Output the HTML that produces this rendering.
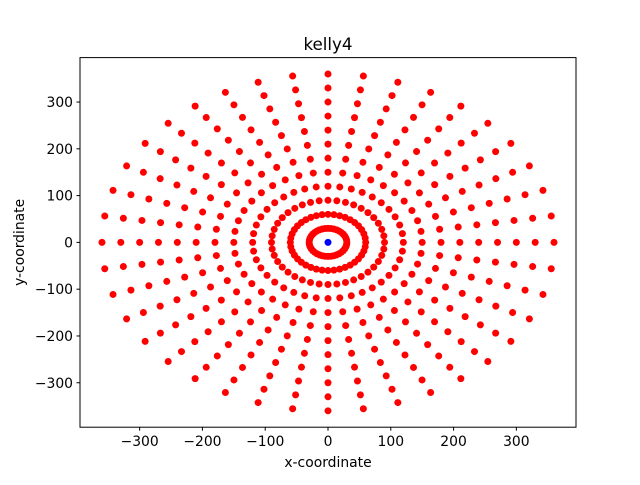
<!DOCTYPE html>
<html><head><meta charset="utf-8"><style>
body{margin:0;background:#fff}
svg text{font-family:"DejaVu Sans","Liberation Sans",sans-serif;fill:#000}
</style></head><body>
<svg id="chart" width="640" height="480" viewBox="0 0 640 480" xmlns="http://www.w3.org/2000/svg">
<rect width="640" height="480" fill="#fff"/>
<text x="328" y="50" font-size="16.7" text-anchor="middle">kelly4</text>
<g id="points"></g>
<rect x="80" y="57.6" width="496" height="369.6" fill="none" stroke="#000" stroke-width="1"/>
<g id="xt"></g>
<g id="yt"></g>
<text x="328" y="467" font-size="13.9" text-anchor="middle">x-coordinate</text>
<text x="24" y="242.4" font-size="13.9" text-anchor="middle" transform="rotate(-90 24 242.4)">y-coordinate</text>
</svg>
<script>
const radii=[30,60,90,120,150,180,210,240,270,300,330,360];
const pointsPerRing=[40,40,40,40,40,40,40,40,40,40,40,40];
const centerPoint=[0,0];
const xTicks=[-300,-200,-100,0,100,200,300];
const yTicks=[-300,-200,-100,0,100,200,300];
const X0=80,X1=576,Y0=57.6,Y1=427.2,LIM=395;
const sx=v=>X0+(v+LIM)/(2*LIM)*(X1-X0);
const sy=v=>Y1-(v+LIM)/(2*LIM)*(Y1-Y0);
const NS="http://www.w3.org/2000/svg";
const pg=document.getElementById('points');
function dot(x,y,c,nm){const e=document.createElementNS(NS,'circle');
e.setAttribute('cx',sx(x));e.setAttribute('cy',sy(y));e.setAttribute('r',3.5);e.setAttribute('fill',c);


pg.appendChild(e);}
radii.forEach((r,i)=>{const n=pointsPerRing[i];for(let k=0;k<n;k++){const a=2*Math.PI*k/n;dot(r*Math.cos(a),r*Math.sin(a),'#ff0000','ring-point');}});
dot(centerPoint[0],centerPoint[1],'#0000ff','center-point');
const xt=document.getElementById('xt'),yt=document.getElementById('yt');
xTicks.forEach(v=>{const x=sx(v);
const l=document.createElementNS(NS,'line');l.setAttribute('x1',x);l.setAttribute('x2',x);l.setAttribute('y1',Y1);l.setAttribute('y2',Y1+3.5);l.setAttribute('stroke','#000');


xt.appendChild(l);
const t=document.createElementNS(NS,'text');t.setAttribute('x',x);t.setAttribute('y',Y1+19);t.setAttribute('font-size','13.9');t.setAttribute('text-anchor','middle');t.textContent=(v<0?'\u2212'+(-v):v);


xt.appendChild(t);});
yTicks.forEach(v=>{const y=sy(v);
const l=document.createElementNS(NS,'line');l.setAttribute('x1',X0-3.5);l.setAttribute('x2',X0);l.setAttribute('y1',y);l.setAttribute('y2',y);l.setAttribute('stroke','#000');


yt.appendChild(l);
const t=document.createElementNS(NS,'text');t.setAttribute('x',X0-7);t.setAttribute('y',y+5);t.setAttribute('font-size','13.9');t.setAttribute('text-anchor','end');t.textContent=(v<0?'\u2212'+(-v):v);


yt.appendChild(t);});
</script>
</body></html>
